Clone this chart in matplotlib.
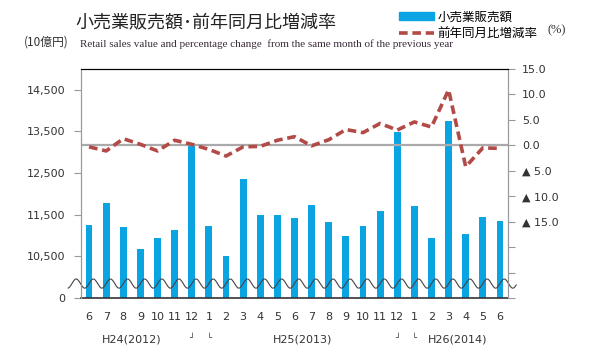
import numpy as np
import matplotlib
matplotlib.use("Agg")
import matplotlib.pyplot as plt
from matplotlib.lines import Line2D
from matplotlib.patches import Patch
import matplotlib.transforms as mtransforms

plt.rcParams['font.family'] = ['DejaVu Sans', 'Noto Sans CJK JP']
cjk = ['Noto Sans CJK JP', 'DejaVu Sans']

# (Jun 2012 - Jun 2014)
months = [6, 7, 8, 9, 10, 11, 12, 1, 2, 3, 4, 5, 6, 7, 8, 9, 10, 11, 12, 1, 2, 3, 4, 5, 6]
sales = [11250, 11780, 11200, 10670, 10950, 11130, 13150, 11230, 10520, 12370, 11500,
         11490, 11410, 11730, 11320, 11000, 11230, 11600, 13490, 11720, 10930, 13750,
         11030, 11440, 11340]
pct = [-0.3, -1.1, 1.3, 0.2, -1.1, 1.0, 0.2, -0.8, -2.1, -0.3, -0.2, 1.0, 1.7, -0.1, 1.1,
       3.1, 2.5, 4.3, 3.0, 4.6, 3.6, 10.9, -4.2, -0.5, -0.6]
years = ["H24(2012)", "H25(2013)", "H26(2014)"]
year_pos = [2.5, 12.5, 21.5]

left_ticks = [9500, 10500, 11500, 12500, 13500, 14500]
left_labels = ["0", "10,500", "11,500", "12,500", "13,500", "14,500"]
right_ticks = np.arange(-30, 16, 5)
right_labels = ["", "", "", "▲ 15.0", "▲ 10.0", "▲ 5.0", "0.0", "5.0", "10.0", "15.0"]

bar_color = '#0ba4e2'
line_color = '#b24a47'

x = np.arange(len(months))

fig = plt.figure(figsize=(6, 3.55), dpi=100)
ax = fig.add_axes([81/600, 1-298/355, 427/600, 229/355])
ax.bar(x, sales, 0.4, color=bar_color, zorder=2)
ax.set_xlim(-0.47, len(months) - 0.53)
ax.set_ylim(9500, 15000)
ax.set_yticks(left_ticks)
ax.set_yticklabels(left_labels)
ax.set_xticks(x)
ax.set_xticklabels([str(m) for m in months])
ax.tick_params(axis='x', length=0, pad=10, labelsize=8, labelcolor='#333')
ax.tick_params(axis='y', length=5, color='#999', labelsize=8, labelcolor='#333', pad=6)
for s in ['left', 'right']:
    ax.spines[s].set_color('#999')
ax.spines['top'].set_color('black')
ax.spines['bottom'].set_color('#333')
ax.spines['bottom'].set_linewidth(1.2)

ax2 = ax.twinx()
ax2.set_ylim(-30, 15)
ax2.axhline(0, color='#aaaaaa', lw=1.6, zorder=1)
ax2.plot(x, pct, color=line_color, lw=2.6, ls=(0, (2.4, 1.3)), zorder=3)
ax2.set_yticks(right_ticks)
ax2.set_yticklabels(right_labels)
ax2.tick_params(axis='y', length=5, color='#999', labelsize=8, labelcolor='#333', pad=5)
for s in ['left', 'right']:
    ax2.spines[s].set_color('#999')
ax2.spines['top'].set_color('black')
ax2.spines['bottom'].set_visible(False)

# axis break wave
trans = mtransforms.blended_transform_factory(ax.transData, ax.transAxes)
wx = np.linspace(-1.22, 24.95, 800)
wy = 0.063 + 0.02 * np.sin(2 * np.pi * wx)
ax.plot(wx, wy, color='#444', lw=0.8, transform=trans, clip_on=False, zorder=4)

# year labels and brackets
for yl, p in zip(years, year_pos):
    ax.text(p, -0.183, yl, transform=trans, ha='center', va='center', fontsize=8, color='#333')
for p, ch in [(6, '┘'), (7, '└'), (18, '┘'), (19, '└')]:
    ax.text(p, -0.175, ch, transform=trans, ha='center', va='center', fontsize=6, color='#333')

fig.text(75/600, 1-22/355, "小売業販売額･前年同月比増減率", family=cjk, fontsize=13,
         ha='left', va='center', color='#222')
fig.text(24/600, 1-42/355, "(10億円)", family=cjk, fontsize=8.5, ha='left', va='center', color='#333')
fig.text(80/600, 1-44/355, "Retail sales value and percentage change  from the same month of the previous year",
         family='Liberation Serif', fontsize=8.0, ha='left', va='center', color='#3a2a3a')
fig.text(548/600, 1-30/355, "(%)", family='Liberation Serif', fontsize=9, ha='left', va='center', color='#333')

handles = [Patch(color=bar_color), Line2D([], [], color=line_color, lw=2.6, ls=(0, (2.4, 1.3)))]
leg = fig.legend(handles, ["小売業販売額", "前年同月比増減率"], loc='upper left',
                 bbox_to_anchor=(390/600, 1-2/355), frameon=False, prop={'family': cjk, 'size': 9},
                 handlelength=2.8, handleheight=0.6, handletextpad=0.3, labelspacing=0.25,
                 borderpad=0.2)

fig.savefig('out.png', dpi=100)
